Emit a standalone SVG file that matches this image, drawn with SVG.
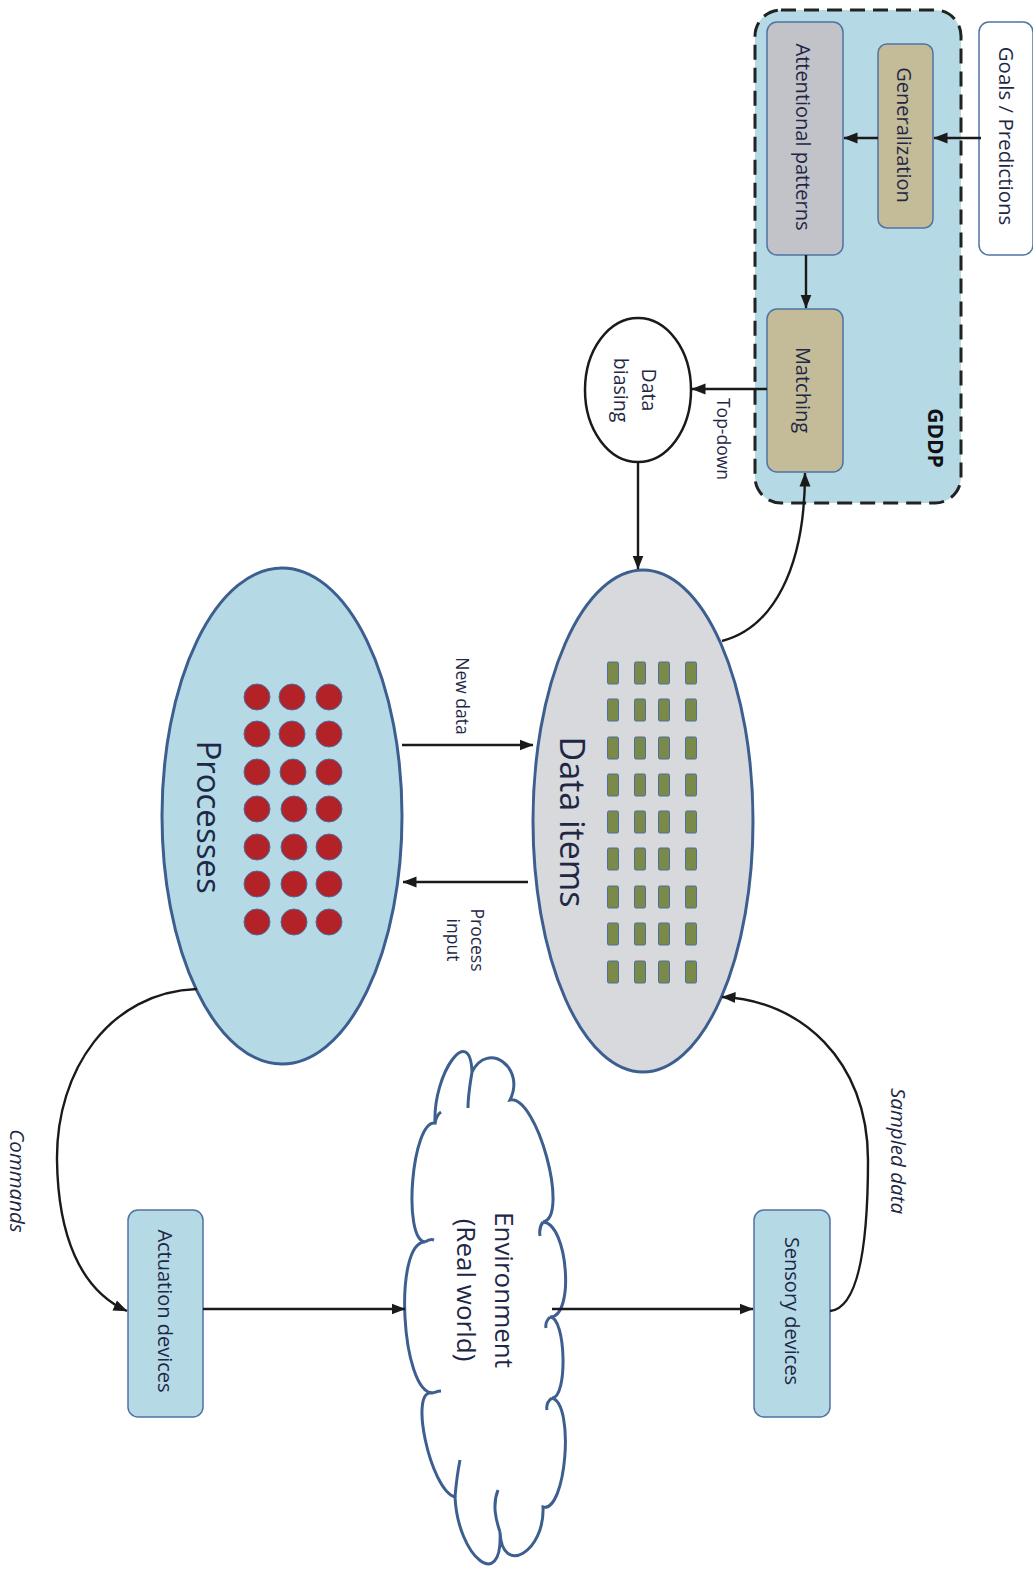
<svg xmlns="http://www.w3.org/2000/svg" width="1033" height="1574" viewBox="0 0 1033 1574">
<defs>
<marker id="arr" viewBox="0 0 14 12" refX="13.5" refY="6" markerWidth="14" markerHeight="12" markerUnits="userSpaceOnUse" orient="auto">
<path d="M0,0.5 L14,6 L0,11.5 z" fill="#1a1a1a"/>
</marker>
<style>
text{font-family:"Open Sans","Liberation Sans",sans-serif;fill:#1e2846;text-anchor:middle;dominant-baseline:central}
.conn{fill:none;stroke:#1a1a1a;stroke-width:2.4}
.box{stroke:#4f73a3;stroke-width:1.5}
.blue{fill:#b5dae6}
.tan{fill:#c4bc98}
.grey{fill:#c1c3c9}
.it{font-style:italic}
.sq{fill:#7b8a48;stroke:#4a6fa0;stroke-width:1}
.dot{fill:#b22226;stroke:#4a6fa0;stroke-width:1}
</style>
</defs>
<rect width="1033" height="1574" fill="#ffffff"/>

<g id="gddp">
<rect x="755" y="10" width="206" height="493" rx="26" fill="#b5dae6" stroke="#222" stroke-width="3" stroke-dasharray="15 8"/>
<text transform="translate(936,438) rotate(90)" font-size="21" font-weight="bold" style="fill:#111">GDDP</text>
</g>

<g id="goals">
<rect x="979" y="22" width="54" height="233" rx="10" fill="#ffffff" class="box"/>
<text transform="translate(1007,136) rotate(90)" font-size="20.5">Goals / Predictions</text>
</g>

<g id="generalization">
<rect x="878" y="44" width="55" height="184" rx="9" class="box tan"/>
<text transform="translate(904,135) rotate(90)" font-size="20">Generalization</text>
</g>

<g id="attentional">
<rect x="767" y="22" width="76" height="233" rx="10" class="box grey"/>
<text transform="translate(803,137) rotate(90)" font-size="20">Attentional patterns</text>
</g>

<g id="matching">
<rect x="767" y="309" width="76" height="163" rx="10" class="box tan"/>
<text transform="translate(803,390) rotate(90)" font-size="20">Matching</text>
</g>

<g id="databiasing">
<ellipse cx="638" cy="390" rx="53" ry="72" fill="#ffffff" stroke="#1a1a1a" stroke-width="2.5"/>
<text transform="translate(636,390) rotate(90)" font-size="19.5"><tspan x="0" y="-14">Data</tspan><tspan x="0" y="14">biasing</tspan></text>
</g>

<g id="dataitems">
<ellipse cx="643" cy="821" rx="110" ry="251" fill="#d7d9dc" stroke="#3d5f8f" stroke-width="3"/>
<g>
<rect class="sq" x="607.5" y="662" width="11" height="22" rx="1.5"/><rect class="sq" x="634.5" y="662" width="11" height="22" rx="1.5"/><rect class="sq" x="658.5" y="662" width="11" height="22" rx="1.5"/><rect class="sq" x="685.5" y="662" width="11" height="22" rx="1.5"/>
<rect class="sq" x="607.5" y="699" width="11" height="22" rx="1.5"/><rect class="sq" x="634.5" y="699" width="11" height="22" rx="1.5"/><rect class="sq" x="658.5" y="699" width="11" height="22" rx="1.5"/><rect class="sq" x="685.5" y="699" width="11" height="22" rx="1.5"/>
<rect class="sq" x="607.5" y="737" width="11" height="22" rx="1.5"/><rect class="sq" x="634.5" y="737" width="11" height="22" rx="1.5"/><rect class="sq" x="658.5" y="737" width="11" height="22" rx="1.5"/><rect class="sq" x="685.5" y="737" width="11" height="22" rx="1.5"/>
<rect class="sq" x="607.5" y="774" width="11" height="22" rx="1.5"/><rect class="sq" x="634.5" y="774" width="11" height="22" rx="1.5"/><rect class="sq" x="658.5" y="774" width="11" height="22" rx="1.5"/><rect class="sq" x="685.5" y="774" width="11" height="22" rx="1.5"/>
<rect class="sq" x="607.5" y="811" width="11" height="22" rx="1.5"/><rect class="sq" x="634.5" y="811" width="11" height="22" rx="1.5"/><rect class="sq" x="658.5" y="811" width="11" height="22" rx="1.5"/><rect class="sq" x="685.5" y="811" width="11" height="22" rx="1.5"/>
<rect class="sq" x="607.5" y="848" width="11" height="22" rx="1.5"/><rect class="sq" x="634.5" y="848" width="11" height="22" rx="1.5"/><rect class="sq" x="658.5" y="848" width="11" height="22" rx="1.5"/><rect class="sq" x="685.5" y="848" width="11" height="22" rx="1.5"/>
<rect class="sq" x="607.5" y="886" width="11" height="22" rx="1.5"/><rect class="sq" x="634.5" y="886" width="11" height="22" rx="1.5"/><rect class="sq" x="658.5" y="886" width="11" height="22" rx="1.5"/><rect class="sq" x="685.5" y="886" width="11" height="22" rx="1.5"/>
<rect class="sq" x="607.5" y="923" width="11" height="22" rx="1.5"/><rect class="sq" x="634.5" y="923" width="11" height="22" rx="1.5"/><rect class="sq" x="658.5" y="923" width="11" height="22" rx="1.5"/><rect class="sq" x="685.5" y="923" width="11" height="22" rx="1.5"/>
<rect class="sq" x="607.5" y="961" width="11" height="22" rx="1.5"/><rect class="sq" x="634.5" y="961" width="11" height="22" rx="1.5"/><rect class="sq" x="658.5" y="961" width="11" height="22" rx="1.5"/><rect class="sq" x="685.5" y="961" width="11" height="22" rx="1.5"/>
</g>
<text transform="translate(573,822) rotate(90)" font-size="34">Data items</text>
</g>

<g id="processes">
<ellipse cx="282" cy="816" rx="120" ry="248" fill="#b5dae6" stroke="#3d5f8f" stroke-width="3"/>
<g>
<circle class="dot" cx="257" cy="697" r="13"/><circle class="dot" cx="292" cy="697" r="13"/><circle class="dot" cx="329" cy="697" r="13"/>
<circle class="dot" cx="257" cy="734" r="13"/><circle class="dot" cx="292" cy="734" r="13"/><circle class="dot" cx="329" cy="734" r="13"/>
<circle class="dot" cx="257" cy="772" r="13"/><circle class="dot" cx="293" cy="772" r="13"/><circle class="dot" cx="329" cy="772" r="13"/>
<circle class="dot" cx="257" cy="809" r="13"/><circle class="dot" cx="294" cy="809" r="13"/><circle class="dot" cx="329" cy="809" r="13"/>
<circle class="dot" cx="257" cy="847" r="13"/><circle class="dot" cx="294" cy="847" r="13"/><circle class="dot" cx="329" cy="847" r="13"/>
<circle class="dot" cx="257" cy="884" r="13"/><circle class="dot" cx="294" cy="884" r="13"/><circle class="dot" cx="329" cy="884" r="13"/>
<circle class="dot" cx="257" cy="922" r="13"/><circle class="dot" cx="294" cy="922" r="13"/><circle class="dot" cx="329" cy="922" r="13"/>
</g>
<text transform="translate(209,817) rotate(90)" font-size="33">Processes</text>
</g>

<g id="actuation">
<rect x="128" y="1210" width="75" height="207" rx="10" class="box blue"/>
<text transform="translate(165,1311) rotate(90)" font-size="20">Actuation devices</text>
</g>

<g id="sensory">
<rect x="754" y="1210" width="76" height="207" rx="10" class="box blue"/>
<text transform="translate(792,1311) rotate(90)" font-size="20">Sensory devices</text>
</g>

<g id="environment">
<path d="M435,1123 C433,1073 470,1022 472,1072 C488,1040 526,1068 510,1100 C537,1095 570,1217 543,1222 C568,1223 575,1318 550,1317 C566,1317 568,1398 552,1398 C575,1404 566,1513 543,1507 C545,1552 502,1577 500,1532 C503,1593 458,1558 455,1497 C430,1490 408,1386 433,1393 C401,1393 393,1242 425,1242 C402,1239 412,1120 435,1123 Z" fill="#ffffff" stroke="#3d5f8f" stroke-width="3"/>
<path d="M472,1072 C470,1085 468,1095 468,1108 M543,1222 C540,1226 539,1230 540,1236 M550,1317 C547,1320 545,1323 546,1328 M552,1398 C548,1401 546,1405 547,1410 M500,1532 C496,1520 492,1505 498,1490 M455,1497 C456,1485 458,1470 460,1460 M433,1393 C436,1392 438,1391 441,1391 M425,1242 C428,1240 431,1239 434,1240 M435,1123 C436,1118 438,1114 441,1112" fill="none" stroke="#3d5f8f" stroke-width="3"/>
<text transform="translate(486,1290) rotate(90)" font-size="26"><tspan x="0" y="-19">Environment</tspan><tspan x="0" y="19">(Real world)</tspan></text>
</g>

<g id="connectors">
<line class="conn" x1="981" y1="138" x2="934" y2="138" marker-end="url(#arr)"/>
<line class="conn" x1="878" y1="138" x2="844" y2="138" marker-end="url(#arr)"/>
<line class="conn" x1="806" y1="255" x2="806" y2="308" marker-end="url(#arr)"/>
<line class="conn" x1="767" y1="389" x2="692" y2="389" marker-end="url(#arr)"/>
<line class="conn" x1="638" y1="462" x2="638" y2="569" marker-end="url(#arr)"/>
<path class="conn" d="M722,641 C772,628 805,570 805,473" marker-end="url(#arr)"/>
<line class="conn" x1="402" y1="745" x2="533" y2="745" marker-end="url(#arr)"/>
<line class="conn" x1="528" y1="882" x2="403" y2="882" marker-end="url(#arr)"/>
<path class="conn" d="M197,989 C110,992 56,1070 57,1160 C58,1235 80,1290 127,1311" marker-end="url(#arr)"/>
<line class="conn" x1="203" y1="1309" x2="405" y2="1309" marker-end="url(#arr)"/>
<line class="conn" x1="552" y1="1309" x2="753" y2="1309" marker-end="url(#arr)"/>
<path class="conn" d="M830,1311 C862,1308 868,1230 868,1160 C868,1060 800,1000 722,997" marker-end="url(#arr)"/>
<text transform="translate(724,439) rotate(90)" font-size="17.5">Top-down</text>
<text transform="translate(463,696) rotate(90)" font-size="17.5">New data</text>
<text transform="translate(466,940) rotate(90)" font-size="17.5"><tspan x="0" y="-12">Process</tspan><tspan x="0" y="12">input</tspan></text>
<text class="it" transform="translate(18,1181) rotate(90)" font-size="20.5">Commands</text>
<text class="it" transform="translate(899,1151) rotate(90)" font-size="20.5">Sampled data</text>
</g>
</svg>
